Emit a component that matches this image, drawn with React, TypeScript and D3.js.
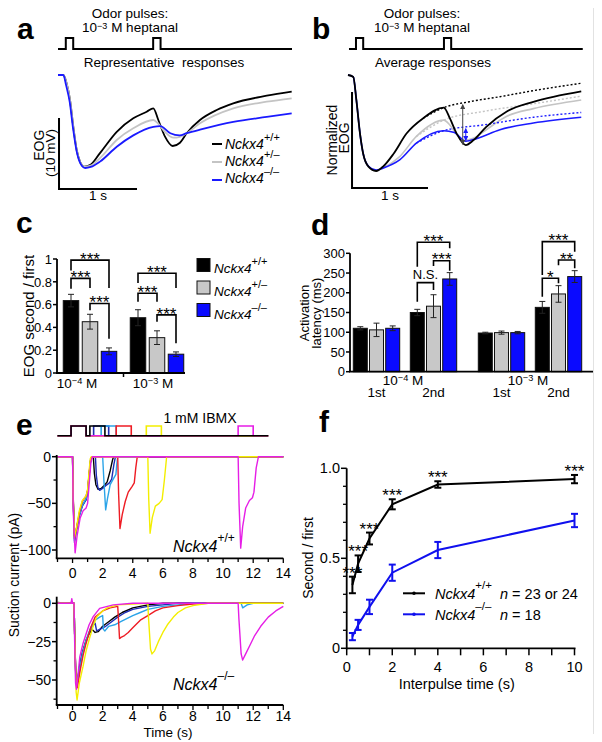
import React from "react";
import * as d3 from "d3";

type P = [number, number];
const FF = "'Liberation Sans', Arial, Helvetica, sans-serif";

const C_BLACK = "#000000";
const C_GRAY = "#c4c4c4";
const C_BLUE = "#1a1aff";
const BAR_COLORS = ["#000000", "#c8c8c8", "#0a0aff"];

const genotypes = ["+/+", "+/–", "–/–"];

// ---------- panel a: representative responses (t in s, EOG in mV) ----------
const pulseOnsetsA = [0.1, 1.22];
const pulseOnsetsB = [0.105, 1.263];
const pulseDur = 0.095;

const aBlack: P[] = [[0, 0], [0.068, 0], [0.11, -1.17], [0.154, -3.52], [0.196, -7.28], [0.24, -10.56], [0.282, -12.2], [0.337, -12.9], [0.41, -12.7], [0.538, -11.0], [0.753, -8.0], [0.965, -6.1], [1.137, -5.17], [1.222, -4.69], [1.286, -6.34], [1.372, -8.69], [1.47, -10.0], [1.564, -9.54], [1.65, -8.2], [1.82, -6.34], [2.035, -4.93], [2.247, -3.99], [2.676, -2.92], [2.996, -2.35]];
const aGray: P[] = [[0, 0], [0.068, 0], [0.11, -1.17], [0.154, -3.52], [0.196, -7.28], [0.24, -10.56], [0.282, -12.2], [0.34, -12.9], [0.41, -12.8], [0.538, -11.7], [0.753, -9.15], [0.965, -7.5], [1.222, -6.34], [1.28, -6.8], [1.37, -8.0], [1.48, -8.83], [1.56, -8.7], [1.65, -8.2], [1.82, -6.8], [2.247, -4.69], [2.676, -3.76], [2.996, -3.28]];
const aBlue: P[] = [[0, 0], [0.068, 0], [0.105, -1.5], [0.15, -3.8], [0.194, -7.6], [0.24, -10.8], [0.285, -12.4], [0.35, -13.1], [0.42, -12.95], [0.538, -12.2], [0.753, -10.1], [0.965, -8.5], [1.222, -7.3], [1.31, -7.2], [1.44, -8.2], [1.56, -8.5], [1.65, -8.2], [1.82, -7.7], [2.247, -6.6], [2.676, -5.9], [2.996, -5.4]];

// ---------- panel b: average normalized responses ----------
const bBlack: P[] = [[0, 0], [0.07, -0.02], [0.11, -0.26], [0.158, -0.61], [0.2, -0.82], [0.27, -0.955], [0.37, -1.0], [0.46, -0.955], [0.6, -0.82], [0.77, -0.61], [0.99, -0.45], [1.26, -0.34], [1.34, -0.45], [1.43, -0.61], [1.55, -0.73], [1.65, -0.68], [1.82, -0.54], [2.09, -0.38], [2.44, -0.28], [3.07, -0.17]];
const bBlackFit: P[] = [[0.99, -0.45], [1.26, -0.34], [1.6, -0.278], [2.0, -0.226], [2.44, -0.163], [3.07, -0.086]];
const bGray: P[] = [[0, 0], [0.07, -0.02], [0.11, -0.26], [0.158, -0.61], [0.2, -0.82], [0.27, -0.955], [0.37, -1.0], [0.46, -0.97], [0.68, -0.85], [0.9, -0.64], [1.26, -0.47], [1.34, -0.52], [1.43, -0.62], [1.52, -0.68], [1.65, -0.66], [1.82, -0.57], [2.09, -0.43], [2.44, -0.35], [3.07, -0.26]];
const bGrayFit: P[] = [[0.9, -0.64], [1.26, -0.47], [1.78, -0.38], [2.44, -0.3], [3.07, -0.22]];
const bBlue: P[] = [[0, 0], [0.07, -0.02], [0.11, -0.26], [0.158, -0.61], [0.2, -0.82], [0.27, -0.95], [0.37, -0.99], [0.46, -0.97], [0.68, -0.885], [0.9, -0.71], [1.26, -0.58], [1.4, -0.6], [1.55, -0.69], [1.7, -0.66], [2.0, -0.57], [2.44, -0.5], [3.07, -0.44]];
const bBlueFit: P[] = [[0.9, -0.71], [1.26, -0.58], [1.78, -0.52], [2.44, -0.44], [3.07, -0.39]];
const bArrowT = [1.51, 1.55];
const bArrowFrom = [-0.31, -0.56];
const bArrowTo = [-0.72, -0.68];

// ---------- panel c ----------
const cConc = ["−4", "−3"];
const cMeans = [[0.635, 0.45, 0.19], [0.485, 0.31, 0.165]];
const cErr = [[0.055, 0.065, 0.03], [0.07, 0.06, 0.02]];
const cTicks = [0, 0.2, 0.4, 0.6, 0.8, 1];
const cTickLabels = ["0", "0.2", "0.4", "0.6", "0.8", "1"];
const cBrG = [0, 0, 0, 1, 1, 1];
const cBrI = [0, 0, 1, 0, 0, 1];
const cBrJ = [2, 1, 2, 2, 1, 2];
const cBrTop = [0.99, 0.83, 0.61, 0.875, 0.7, 0.51];
const cBrL = [0.9, 0.74, 0.55, 0.79, 0.625, 0.45];
const cBrR = [0.745, 0.745, 0.3, 0.745, 0.625, 0.26];

// ---------- panel d ----------
const dConc = ["−4", "−3"];
const dPulse = ["1st", "2nd"];
const dMeans = [[[110, 106, 110], [150, 166, 235]], [[98, 99, 99], [163, 197, 241]]];
const dErr = [[[4, 17, 6], [8, 29, 16]], [[2, 4, 3], [15, 21, 15]]];
const dTicks = [0, 50, 100, 150, 200, 250, 300];
const dBrC = [0, 0, 0, 1, 1, 1];
const dBrI = [0, 1, 0, 0, 1, 0];
const dBrJ = [2, 2, 1, 2, 2, 1];
const dBrTop = [328, 281, 225.6, 329.6, 283, 236.6];
const dBrL = [266, 268, 177, 245, 270, 190];
const dBrR = [313, 256, 207, 304, 262, 224];
const dBrLabel = ["***", "***", "N.S.", "***", "**", "*"];

// ---------- panel e ----------
const eColors = ["#000000", "#1e2db4", "#2ba4e8", "#ee1c24", "#f3ee00", "#e61ee6"];
const eStimFirst = [-0.1, 0.9];
const eStimSecond = [1.15, 1.4, 1.9, 2.9, 4.9, 11.0];
const eStimDur = 1.0;
const eStimOrder = [1, 2, 3, 4, 5, 0];
const eTop: P[][] = [
  [[-1, 0], [0, 0], [0.04, -40], [0.12, -85], [0.25, -78], [0.45, -62], [0.65, -52], [0.9, -46], [1.0, -38], [1.1, -20], [1.2, -4], [1.28, 0], [1.38, 0], [1.45, -18], [1.55, -30], [1.7, -35], [1.9, -34], [2.1, -31], [2.3, -27], [2.5, -15], [2.65, -4], [2.72, 0], [14, 0]],
  [[-1, 0], [0, 0], [0.04, -45], [0.13, -92], [0.25, -80], [0.45, -64], [0.65, -53], [0.9, -46], [1.0, -38], [1.1, -20], [1.2, -4], [1.28, 0], [1.52, 0], [1.58, -20], [1.68, -33], [1.8, -36], [2.0, -34], [2.2, -31], [2.45, -28], [2.6, -24], [2.75, -8], [2.85, 0], [14, 0]],
  [[-1, 0], [0, 0], [0.04, -45], [0.13, -90], [0.25, -79], [0.45, -63], [0.65, -52], [0.9, -45], [1.0, -37], [1.1, -20], [1.2, -4], [1.28, 0], [2.0, 0], [2.08, -25], [2.2, -57], [2.32, -45], [2.5, -30], [2.7, -24], [2.88, -19], [2.94, -8], [3.0, 0], [14, 0]],
  [[-1, 0], [0, 0], [0.04, -42], [0.13, -88], [0.25, -78], [0.45, -60], [0.65, -48], [0.9, -42], [1.0, -36], [1.1, -18], [1.2, -3], [1.28, 0], [3.0, 0], [3.06, -40], [3.15, -77], [3.3, -62], [3.5, -48], [3.7, -38], [3.95, -32], [4.1, -28], [4.2, -12], [4.3, 0], [14, 0]],
  [[-1, 0], [0, 0], [0.04, -44], [0.13, -86], [0.25, -77], [0.45, -58], [0.65, -47], [0.9, -42], [1.0, -35], [1.1, -15], [1.18, -2], [1.25, 0], [5.0, 0], [5.06, -45], [5.15, -82], [5.3, -65], [5.5, -53], [5.75, -50], [5.95, -46], [6.1, -25], [6.25, 0], [14, 0]],
  [[-1, 0], [0, 0], [0.05, -60], [0.17, -103], [0.3, -85], [0.5, -66], [0.7, -58], [0.9, -55], [1.0, -50], [1.1, -30], [1.22, -6], [1.32, 0], [11.0, 0], [11.06, -50], [11.17, -98], [11.3, -75], [11.5, -55], [11.75, -47], [11.95, -44], [12.05, -38], [12.2, -12], [12.35, 0], [14, 0]],
];
const eBot: P[][] = [
  [[-1, 0.5], [-0.5, 0], [0, 0.5], [0.1, 0], [0.14, -20], [0.22, -48], [0.3, -52], [0.45, -42], [0.65, -32], [0.9, -24], [1.1, -20], [1.3, -17], [1.5, -19], [1.7, -18.5], [2.0, -15], [2.4, -12], [2.8, -9], [3.3, -6], [4.0, -3], [5.0, -1], [6, 0], [14, 0]],
  [[-1, 0], [0.1, 0], [0.14, -20], [0.22, -50], [0.3, -53], [0.45, -43], [0.65, -33], [0.9, -25], [1.1, -19], [1.3, -15], [1.5, -13], [1.6, -18], [1.8, -17], [2.2, -15], [2.6, -12], [3.0, -9], [3.5, -6], [4.0, -4], [5.0, -2], [6, -1], [7, 0], [14, 0]],
  [[-1, 0], [0.1, 0], [0.14, -20], [0.22, -50], [0.3, -54], [0.45, -44], [0.65, -33], [0.9, -24], [1.2, -16], [1.5, -11], [1.8, -9], [2.0, -8], [2.05, -17], [2.15, -18], [2.4, -15], [2.8, -14], [3.2, -12], [3.6, -10], [4.0, -8], [4.5, -6], [5.0, -4], [6.0, -2], [7, -1], [8, 0], [11.2, 0], [11.3, -3], [11.6, -1], [12, 0], [14, 0]],
  [[-1, 0], [0.1, 0], [0.14, -20], [0.23, -52], [0.32, -55], [0.5, -44], [0.7, -34], [0.9, -26], [1.2, -16], [1.5, -9], [2, -5], [2.5, -3], [3.0, -2], [3.05, -10], [3.12, -23], [3.25, -22], [3.45, -21], [3.7, -19], [4.0, -16], [4.5, -11], [5.0, -8], [5.5, -5], [6.0, -3], [7, -1.5], [8, -0.5], [9, 0], [14, 0]],
  [[-1, 0], [0.1, 0], [0.15, -25], [0.24, -58], [0.3, -63], [0.45, -52], [0.7, -41], [0.9, -31], [1.15, -22], [1.4, -14], [1.6, -9], [2.0, -5], [2.3, -3], [3, -1], [5.0, 0], [5.05, -10], [5.18, -30], [5.28, -33], [5.45, -31], [5.7, -25], [6.0, -19], [6.3, -14], [6.7, -9], [7.0, -6], [7.5, -3], [8, -1.5], [9, 0], [14, 0]],
  [[-1, 0], [-0.1, 0], [-0.05, 3], [0, 0], [0.1, 0], [0.14, -25], [0.2, -52], [0.26, -56], [0.35, -48], [0.48, -35], [0.7, -26], [0.93, -19], [1.1, -14], [1.37, -8.7], [1.8, -3.3], [2.7, -1], [4, 0], [11.0, 0], [11.05, -10], [11.2, -33], [11.3, -37], [11.5, -33], [11.8, -27], [12.1, -21], [12.5, -15], [13.0, -9], [13.5, -5], [14, -2]],
];
const eXTicks = [-1, 0, 1, 2, 3, 4, 5, 6, 7, 8, 9, 10, 11, 12, 13, 14];
const eXLabels = [0, 2, 4, 6, 8, 10, 12, 14];
const eTopMajor = [0, -50, -100];
const eTopMinor = [-25, -75];
const eBotMajor = [0, -25, -50];
const eBotMinor = [-12.5, -37.5, -62.5];

// ---------- panel f ----------
const fTimes = [0.25, 0.5, 1, 2, 4, 10];
const fWT = [0.352, 0.47, 0.61, 0.8, 0.91, 0.94];
const fWTErr = [0.046, 0.046, 0.033, 0.028, 0.018, 0.023];
const fKO = [0.065, 0.13, 0.23, 0.42, 0.546, 0.71];
const fKOErr = [0.02, 0.028, 0.04, 0.045, 0.045, 0.037];
const fSig = ["***", "***", "***", "***", "***", "***"];
const fXTicks = [0, 1, 2, 3, 4, 5, 6, 7, 8, 9, 10];
const fXLabels = [0, 2, 4, 6, 8, 10];
const fYMinor = [0.1, 0.2, 0.3, 0.4, 0.6, 0.7, 0.8, 0.9];
const fYMajor = [0, 0.5, 1.0];
const fYLabels = ["0", "0.5", "1.0"];

function Geno({ x, y, sup, fs, sfs, dy, anchor }: any) {
  return (
    <text x={x} y={y} fontFamily={FF} fontSize={fs} textAnchor={anchor || "start"}>
      <tspan fontStyle="italic">Nckx4</tspan>
      <tspan dy={-dy} fontSize={sfs}>{sup}</tspan>
    </text>
  );
}

function Conc({ x, y, exp, fs }: any) {
  return (
    <text x={x} y={y} fontFamily={FF} fontSize={fs} textAnchor="middle">
      10<tspan dy={-4} fontSize={fs * 0.68}>{exp}</tspan>
      <tspan dy={4}> M</tspan>
    </text>
  );
}

function pulsePath(x: any, y: any, onsets: number[], durs: number[], start: number, end: number) {
  const pts: P[] = [[start, 0]];
  onsets.forEach((o, i) => {
    pts.push([o, 0], [o, 1], [o + durs[i], 1], [o + durs[i], 0]);
  });
  pts.push([end, 0]);
  return d3.line<P>().x((d) => x(d[0])).y((d) => y(d[1]))(pts) || "";
}

export default function App() {
  const lineM = (x: any, y: any) => d3.line<P>().x((d) => x(d[0])).y((d) => y(d[1])).curve(d3.curveMonotoneX);
  const lineL = (x: any, y: any) => d3.line<P>().x((d) => x(d[0])).y((d) => y(d[1]));

  // scales
  const ax = d3.scaleLinear().domain([0, 3]).range([58, 292]);
  const ay = d3.scaleLinear().domain([0, -13]).range([75, 167.3]);
  const apy = d3.scaleLinear().domain([0, 1]).range([49, 38]);
  const bx = d3.scaleLinear().domain([0, 3.08]).range([348, 582]);
  const by = d3.scaleLinear().domain([0, -1]).range([75, 171]);

  const cy = d3.scaleLinear().domain([0, 1]).range([373, 259]);
  const cg = d3.scalePoint<string>().domain(cConc).range([90, 157]);
  const cb = d3.scalePoint<string>().domain(genotypes).range([-19, 19]);

  const dy = d3.scaleLinear().domain([0, 300]).range([371.7, 253.3]);
  const dc = d3.scalePoint<string>().domain(dConc).range([405, 530]);
  const dp = d3.scalePoint<string>().domain(dPulse).range([-28.5, 28.5]);
  const db = d3.scalePoint<string>().domain(genotypes).range([-16.2, 16.2]);

  const ex = d3.scaleLinear().domain([-1, 14]).range([57.5, 283.3]);
  const eyT = d3.scaleLinear().domain([0, -100]).range([456.7, 550]);
  const eyB = d3.scaleLinear().domain([0, -50]).range([603.3, 680]);
  const esy = d3.scaleLinear().domain([0, 1]).range([435.7, 426]);

  const fx = d3.scaleLinear().domain([0, 10]).range([346.7, 574.5]);
  const fy = d3.scaleLinear().domain([0, 1]).range([648.3, 468.3]);

  const AX = 1.8; // axis width
  const bold = { fontFamily: FF, fontWeight: 700, fontSize: 30 } as any;
  const txt = (fs: number) => ({ fontFamily: FF, fontSize: fs } as any);

  const aLines = [aBlack, aGray, aBlue];
  const aCols = [C_BLACK, C_GRAY, C_BLUE];

  const cBarW = 15.5;
  const dBarW = 14;

  return (
    <svg width={602} height={742} style={{ position: "absolute", left: 0, top: 0, background: "#fff" }}>
      <defs>
        <marker id="ahK" viewBox="0 0 6 6" refX="5" refY="3" markerWidth="5" markerHeight="5" orient="auto-start-reverse">
          <path d="M0,0 L6,3 L0,6 z" fill="#444" />
        </marker>
        <marker id="ahB" viewBox="0 0 6 6" refX="5" refY="3" markerWidth="5" markerHeight="5" orient="auto-start-reverse">
          <path d="M0,0 L6,3 L0,6 z" fill={C_BLUE} />
        </marker>
      </defs>
      <rect x={0} y={0} width={602} height={742} fill="#fff" />
      <line x1={593.5} x2={593.5} y1={8} y2={734} stroke="#e2e2e2" strokeWidth={1} />

      {/* ================= a ================= */}
      <text x={17} y={39} {...bold}>a</text>
      <text x={130} y={17.5} textAnchor="middle" {...txt(13.5)}>Odor pulses:</text>
      <text x={130} y={32} textAnchor="middle" {...txt(13.5)}>
        10<tspan dy={-3.5} fontSize={9}>−3</tspan><tspan dy={3.5}> M heptanal</tspan>
      </text>
      <path d={pulsePath(ax, apy, pulseOnsetsA, pulseOnsetsA.map(() => pulseDur), 0, 3)} fill="none" stroke="#000" strokeWidth={2} />
      <text x={164} y={67} textAnchor="middle" {...txt(13.5)} style={{ whiteSpace: "pre" }}>Representative  responses</text>
      {aLines.map((d, i) => (
        <path key={i} d={lineM(ax, ay)(d) || ""} fill="none" stroke={aCols[i]} strokeWidth={1.8} />
      ))}
      {/* scale bar 1 s x 10 mV */}
      <path d={`M${ax(0.013)},${ay(-6.06)} V${ay(-16.06)} H${ax(1.013)}`} fill="none" stroke="#000" strokeWidth={2} />
      <text x={ax(0.513)} y={200} textAnchor="middle" {...txt(13.5)}>1 s</text>
      <text transform={`translate(44,${ay(-9.9)}) rotate(-90)`} textAnchor="middle" {...txt(14)}>EOG</text>
      <text transform={`translate(55,${ay(-11)}) rotate(-90)`} textAnchor="middle" {...txt(13.5)}>(10 mV)</text>
      {genotypes.map((g, i) => (
        <g key={g}>
          <line x1={212} x2={222} y1={144 + i * 18} y2={144 + i * 18} stroke={aCols[i]} strokeWidth={2} />
          <Geno x={225} y={148.5 + i * 17.3} sup={g} fs={14} sfs={11} dy={8} />
        </g>
      ))}

      {/* ================= b ================= */}
      <text x={312} y={39} {...bold}>b</text>
      <text x={422} y={17.5} textAnchor="middle" {...txt(13.5)}>Odor pulses:</text>
      <text x={422} y={32} textAnchor="middle" {...txt(13.5)}>
        10<tspan dy={-3.5} fontSize={9}>−3</tspan><tspan dy={3.5}> M heptanal</tspan>
      </text>
      <path d={pulsePath(bx, apy, pulseOnsetsB, pulseOnsetsB.map(() => pulseDur), 0.013, 3.09)} fill="none" stroke="#000" strokeWidth={2} />
      <text x={433} y={67} textAnchor="middle" {...txt(13.5)}>Average responses</text>
      <path d={lineM(bx, by)(bGray) || ""} fill="none" stroke={C_GRAY} strokeWidth={1.6} />
      <path d={lineM(bx, by)(bGrayFit) || ""} fill="none" stroke={C_GRAY} strokeWidth={1.4} strokeDasharray="2,2" />
      <path d={lineM(bx, by)(bBlue) || ""} fill="none" stroke={C_BLUE} strokeWidth={1.6} />
      <path d={lineM(bx, by)(bBlueFit) || ""} fill="none" stroke={C_BLUE} strokeWidth={1.4} strokeDasharray="2,2" />
      <path d={lineM(bx, by)(bBlack) || ""} fill="none" stroke={C_BLACK} strokeWidth={1.8} />
      <path d={lineM(bx, by)(bBlackFit) || ""} fill="none" stroke={C_BLACK} strokeWidth={1.4} strokeDasharray="2,2" />
      {bArrowT.map((t, i) => (
        <line key={i} x1={bx(t)} x2={bx(t)} y1={by(bArrowFrom[i])} y2={by(bArrowTo[i])} stroke={i === 0 ? "#444" : C_BLUE} strokeWidth={1} markerStart={`url(#${i === 0 ? "ahK" : "ahB"})`} markerEnd={`url(#${i === 0 ? "ahK" : "ahB"})`} />
      ))}
      <path d={`M${bx(0.053)},${by(-0.177)} V${by(-1.177)} H${bx(1.053)}`} fill="none" stroke="#000" strokeWidth={2} />
      <text x={bx(0.553)} y={200} textAnchor="middle" {...txt(13.5)}>1 s</text>
      <text transform={`translate(337,140) rotate(-90)`} textAnchor="middle" {...txt(14)}>Normalized</text>
      <text transform={`translate(349,138) rotate(-90)`} textAnchor="middle" {...txt(14)}>EOG</text>

      {/* ================= c ================= */}
      <text x={16} y={233} {...bold}>c</text>
      <text transform={`translate(34,316) rotate(-90)`} textAnchor="middle" {...txt(15)}>EOG second / first</text>
      {cTicks.map((t, i) => (
        <g key={t}>
          <line x1={53} x2={57} y1={cy(t)} y2={cy(t)} stroke="#000" strokeWidth={1.5} />
          <text x={52} y={cy(t) + 4.7} textAnchor="end" {...txt(13)}>{cTickLabels[i]}</text>
        </g>
      ))}
      {cConc.map((g, gi) =>
        genotypes.map((gt, bi) => {
          const cx = (cg(g) as number) + (cb(gt) as number);
          const m = cMeans[gi][bi];
          const e = cErr[gi][bi];
          return (
            <g key={g + gt}>
              <rect x={cx - cBarW / 2} y={cy(m)} width={cBarW} height={cy(0) - cy(m)} fill={BAR_COLORS[bi]} stroke="#111" strokeWidth={1} />
              <line x1={cx} x2={cx} y1={cy(m - e)} y2={cy(m + e)} stroke="#222" strokeWidth={1} />
              <line x1={cx - 3} x2={cx + 3} y1={cy(m + e)} y2={cy(m + e)} stroke="#222" strokeWidth={1} />
              <line x1={cx - 3} x2={cx + 3} y1={cy(m - e)} y2={cy(m - e)} stroke="#222" strokeWidth={1} />
            </g>
          );
        })
      )}
      <line x1={57} x2={57} y1={cy(0)} y2={cy(1)} stroke="#000" strokeWidth={AX} />
      <line x1={56} x2={185} y1={cy(0)} y2={cy(0)} stroke="#000" strokeWidth={AX} />
      <line x1={123.5} x2={123.5} y1={cy(0)} y2={cy(0) + 4} stroke="#000" strokeWidth={1.5} />
      {cBrG.map((g, k) => {
        const gx = cg(cConc[g]) as number;
        const x1 = gx + (cb(genotypes[cBrI[k]]) as number);
        const x2 = gx + (cb(genotypes[cBrJ[k]]) as number);
        return (
          <g key={k}>
            <path d={`M${x1},${cy(cBrL[k])} V${cy(cBrTop[k])} H${x2} V${cy(cBrR[k])}`} fill="none" stroke="#000" strokeWidth={1.6} />
            <text x={(x1 + x2) / 2} y={cy(cBrTop[k]) + 5} textAnchor="middle" {...txt(17)}>***</text>
          </g>
        );
      })}
      {cConc.map((g, gi) => (
        <Conc key={g} x={gi === 0 ? 77 : 153} y={388} exp={g} fs={13.5} />
      ))}
      {genotypes.map((g, i) => (
        <g key={g}>
          <rect x={197} y={258.5 + i * 22.5} width={13} height={13} fill={BAR_COLORS[i]} stroke="#111" strokeWidth={1} />
          <Geno x={214} y={273 + i * 23} sup={g} fs={13.5} sfs={11} dy={8} />
        </g>
      ))}

      {/* ================= d ================= */}
      <text x={311} y={235} {...bold}>d</text>
      <text transform={`translate(309,313) rotate(-90)`} textAnchor="middle" {...txt(13)}>Activation</text>
      <text transform={`translate(321,313) rotate(-90)`} textAnchor="middle" {...txt(13)}>latency (ms)</text>
      {dTicks.map((t) => (
        <g key={t}>
          <line x1={346} x2={350} y1={dy(t)} y2={dy(t)} stroke="#000" strokeWidth={1.5} />
          <text x={345} y={dy(t) + 4.7} textAnchor="end" {...txt(13)}>{t}</text>
        </g>
      ))}
      {dConc.map((c, ci) =>
        dPulse.map((p, pi) =>
          genotypes.map((gt, bi) => {
            const cx = (dc(c) as number) + (dp(p) as number) + (db(gt) as number);
            const m = dMeans[ci][pi][bi];
            const e = dErr[ci][pi][bi];
            return (
              <g key={c + p + gt}>
                <rect x={cx - dBarW / 2} y={dy(m)} width={dBarW} height={dy(0) - dy(m)} fill={BAR_COLORS[bi]} stroke="#111" strokeWidth={1} />
                <line x1={cx} x2={cx} y1={dy(m - e)} y2={dy(m + e)} stroke="#222" strokeWidth={1} />
                <line x1={cx - 3} x2={cx + 3} y1={dy(m + e)} y2={dy(m + e)} stroke="#222" strokeWidth={1} />
                <line x1={cx - 3} x2={cx + 3} y1={dy(m - e)} y2={dy(m - e)} stroke="#222" strokeWidth={1} />
              </g>
            );
          })
        )
      )}
      <line x1={350} x2={350} y1={dy(0)} y2={dy(300)} stroke="#000" strokeWidth={AX} />
      <line x1={349} x2={593} y1={dy(0)} y2={dy(0)} stroke="#000" strokeWidth={AX} />
      {dBrC.map((c, k) => {
        const base = (dc(dConc[c]) as number) + (dp("2nd") as number);
        const x1 = base + (db(genotypes[dBrI[k]]) as number);
        const x2 = base + (db(genotypes[dBrJ[k]]) as number);
        const isNS = dBrLabel[k] === "N.S.";
        return (
          <g key={k}>
            <path d={`M${x1},${dy(dBrL[k])} V${dy(dBrTop[k])} H${x2} V${dy(dBrR[k])}`} fill="none" stroke="#000" strokeWidth={1.6} />
            <text x={(x1 + x2) / 2} y={isNS ? dy(dBrTop[k]) - 3.4 : dy(dBrTop[k]) + 4.5} textAnchor="middle" {...txt(isNS ? 13 : 17)}>{dBrLabel[k]}</text>
          </g>
        );
      })}
      {dConc.map((c) => (
        <g key={c}>
          <Conc x={(dc(c) as number) - 2} y={385} exp={c} fs={13.5} />
          {dPulse.map((p) => (
            <text key={p} x={(dc(c) as number) + (dp(p) as number)} y={396.5} textAnchor="middle" {...txt(13.5)}>{p}</text>
          ))}
        </g>
      ))}

      {/* ================= e ================= */}
      <text x={16} y={435} {...bold}>e</text>
      <text x={200} y={423} textAnchor="middle" {...txt(14)}>1 mM IBMX</text>
      {eStimOrder.map((i) => (
        <path key={i} d={pulsePath(ex, esy, [eStimFirst[0], eStimSecond[i]], [eStimFirst[1] - eStimFirst[0], eStimDur], -1, 13)} fill="none" stroke={eColors[i]} strokeWidth={1.6} />
      ))}
      {/* top traces */}
      {eTop.map((d, i) => (
        <path key={i} d={lineL(ex, eyT)(d) || ""} fill="none" stroke={eColors[i]} strokeWidth={1.4} strokeLinejoin="round" />
      ))}
      <line x1={56.7} x2={56.7} y1={455} y2={558.3} stroke="#000" strokeWidth={AX} />
      <line x1={55.8} x2={283.3} y1={558.3} y2={558.3} stroke="#000" strokeWidth={AX} />
      {eTopMajor.map((t) => (
        <g key={t}>
          <line x1={52} x2={56.7} y1={eyT(t)} y2={eyT(t)} stroke="#000" strokeWidth={1.5} />
          <text x={51} y={eyT(t) + 5} textAnchor="end" {...txt(14)}>{t === 0 ? "0" : "−" + Math.abs(t)}</text>
        </g>
      ))}
      {eTopMinor.map((t) => (
        <line key={t} x1={53.5} x2={56.7} y1={eyT(t)} y2={eyT(t)} stroke="#000" strokeWidth={1.3} />
      ))}
      {eXTicks.map((t) => (
        <line key={t} x1={ex(t)} x2={ex(t)} y1={558.3} y2={t % 2 === 0 ? 563 : 562} stroke="#000" strokeWidth={1.3} />
      ))}
      {eXLabels.map((t) => (
        <text key={t} x={ex(t)} y={578} textAnchor="middle" {...txt(14)}>{t}</text>
      ))}
      <Geno x={173} y={551.5} sup="+/+" fs={16} sfs={12} dy={10} />

      {/* bottom traces */}
      {eBot.map((d, i) => (
        <path key={i} d={lineL(ex, eyB)(d) || ""} fill="none" stroke={eColors[i]} strokeWidth={1.4} strokeLinejoin="round" />
      ))}
      <line x1={56.7} x2={56.7} y1={596.7} y2={705} stroke="#000" strokeWidth={AX} />
      <line x1={55.8} x2={283.3} y1={705} y2={705} stroke="#000" strokeWidth={AX} />
      {eBotMajor.map((t) => (
        <g key={t}>
          <line x1={52} x2={56.7} y1={eyB(t)} y2={eyB(t)} stroke="#000" strokeWidth={1.5} />
          <text x={51} y={eyB(t) + 5} textAnchor="end" {...txt(14)}>{t === 0 ? "0" : "−" + Math.abs(t)}</text>
        </g>
      ))}
      {eBotMinor.map((t) => (
        <line key={t} x1={53.5} x2={56.7} y1={eyB(t)} y2={eyB(t)} stroke="#000" strokeWidth={1.3} />
      ))}
      {eXTicks.map((t) => (
        <line key={t} x1={ex(t)} x2={ex(t)} y1={705} y2={t % 2 === 0 ? 710 : 709} stroke="#000" strokeWidth={1.3} />
      ))}
      {eXLabels.map((t) => (
        <text key={t} x={ex(t)} y={720.5} textAnchor="middle" {...txt(14)}>{t}</text>
      ))}
      <text x={168} y={737} textAnchor="middle" {...txt(13.5)}>Time (s)</text>
      <Geno x={173} y={690} sup="–/–" fs={16} sfs={12} dy={10} />
      <text transform={`translate(19,575) rotate(-90)`} textAnchor="middle" {...txt(14)}>Suction current (pA)</text>

      {/* ================= f ================= */}
      <text x={319} y={432} {...bold}>f</text>
      <text transform={`translate(313,558) rotate(-90)`} textAnchor="middle" {...txt(14)}>Second / first</text>
      <line x1={346.7} x2={346.7} y1={fy(0) + 1} y2={fy(1)} stroke="#000" strokeWidth={AX} />
      <line x1={346} x2={fx(10) + 1} y1={fy(0)} y2={fy(0)} stroke="#000" strokeWidth={AX} />
      {fYMinor.map((t) => (
        <line key={t} x1={343} x2={346.7} y1={fy(t)} y2={fy(t)} stroke="#000" strokeWidth={1.3} />
      ))}
      {fYMajor.map((t, i) => (
        <g key={t}>
          <line x1={341} x2={346.7} y1={fy(t)} y2={fy(t)} stroke="#000" strokeWidth={1.5} />
          <text x={340} y={fy(t) + 5} textAnchor="end" {...txt(14.5)}>{fYLabels[i]}</text>
        </g>
      ))}
      {fXTicks.map((t) => (
        <line key={t} x1={fx(t)} x2={fx(t)} y1={fy(0)} y2={fy(0) + 7} stroke="#000" strokeWidth={1.5} />
      ))}
      {fXLabels.map((t) => (
        <text key={t} x={fx(t)} y={672} textAnchor="middle" {...txt(14.5)}>{t}</text>
      ))}
      <text x={456.7} y={688.5} textAnchor="middle" {...txt(14.5)}>Interpulse time (s)</text>
      {[
        { v: fWT, e: fWTErr, col: "#000" },
        { v: fKO, e: fKOErr, col: "#1010ee" },
      ].map((s, si) => (
        <g key={si}>
          <path d={lineL(fx, fy)(fTimes.map((t, i) => [t, s.v[i]] as P)) || ""} fill="none" stroke={s.col} strokeWidth={2} />
          {fTimes.map((t, i) => (
            <g key={t}>
              <line x1={fx(t)} x2={fx(t)} y1={fy(s.v[i] - s.e[i])} y2={fy(s.v[i] + s.e[i])} stroke={s.col} strokeWidth={2} />
              <line x1={fx(t) - 3.5} x2={fx(t) + 3.5} y1={fy(s.v[i] - s.e[i])} y2={fy(s.v[i] - s.e[i])} stroke={s.col} strokeWidth={2} />
              <line x1={fx(t) - 3.5} x2={fx(t) + 3.5} y1={fy(s.v[i] + s.e[i])} y2={fy(s.v[i] + s.e[i])} stroke={s.col} strokeWidth={2} />
            </g>
          ))}
        </g>
      ))}
      {fTimes.map((t, i) => (
        <text key={t} x={fx(t)} y={fy(fWT[i] + fWTErr[i]) + 2} textAnchor="middle" {...txt(17)}>{fSig[i]}</text>
      ))}
      {[
        { col: "#000", sup: "+/+", n: "n = 23 or 24" },
        { col: "#1010ee", sup: "–/–", n: "n = 18" },
      ].map((r, i) => (
        <g key={i}>
          <line x1={403} x2={425} y1={593.3 + i * 21} y2={593.3 + i * 21} stroke={r.col} strokeWidth={2} />
          <circle cx={414} cy={593.3 + i * 21} r={1.8} fill={r.col} />
          <Geno x={435} y={598.5 + i * 21.5} sup={r.sup} fs={14.5} sfs={11.5} dy={10} />
          <text x={500} y={598.5 + i * 21.5} {...txt(14.5)}>
            <tspan fontStyle="italic">n</tspan>{r.n.slice(1)}
          </text>
        </g>
      ))}
    </svg>
  );
}
